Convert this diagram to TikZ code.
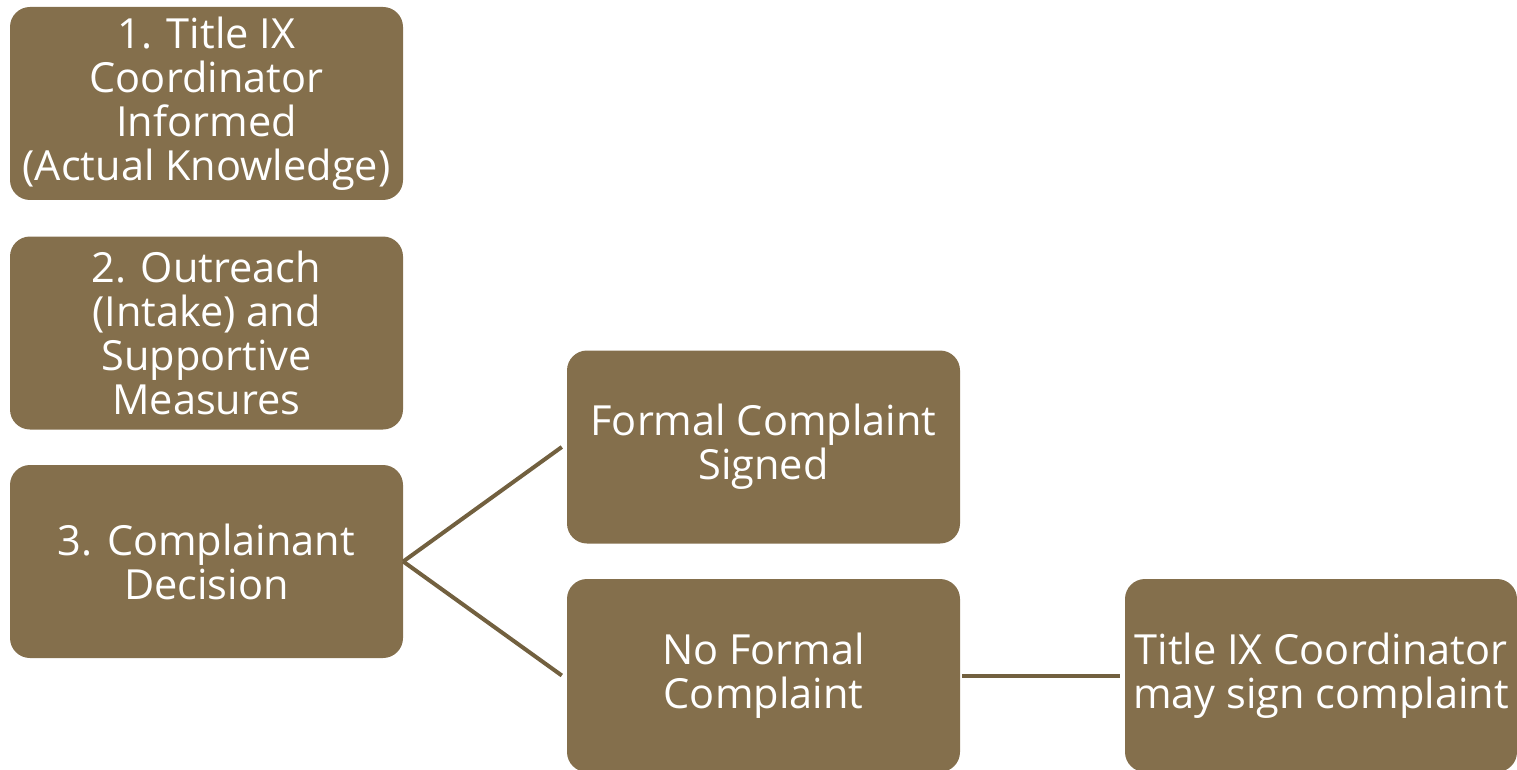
\documentclass[tikz,border=0pt]{standalone}
\usepackage{fontspec}
\setmainfont{Open Sans}
\definecolor{boxfill}{HTML}{846F4C}
\definecolor{linecol}{HTML}{72603F}
\begin{document}
\begin{tikzpicture}[x=1pt,y=-1pt,
  box/.style={fill=boxfill, rounded corners=20pt, minimum width=393pt, minimum height=193pt,
    inner sep=0pt, text=white, align=center, font=\fontsize{41.5}{44}\selectfont},
  conn/.style={draw=linecol, line width=4pt}]
\useasboundingbox (0,0) rectangle (1517,770);
\clip (0,0) rectangle (1517,770);
\node[box] (b1) at (206.5,103.5) {1. Title IX\\Coordinator\\Informed\\(Actual Knowledge)};
\node[box] (b2) at (206.5,333) {2. Outreach\\(Intake) and\\Supportive\\Measures};
\node[box] (b3) at (206.5,561.5) {3. Complainant\\Decision};
\node[box] (b4) at (763.5,447) {Formal Complaint\\Signed};
\node[box] (b5) at (763.5,675.5) {No Formal\\Complaint};
\node[box, minimum width=392pt] (b6) at (1321,675.5) {Title IX Coordinator\\may sign complaint};
\draw[conn] (b3.east) -- ([xshift=-5pt]b4.west);
\draw[conn] (b3.east) -- ([xshift=-5pt]b5.west);
\draw[conn] ([xshift=2pt]b5.east) -- ([xshift=-5pt]b6.west);
\end{tikzpicture}
\end{document}
